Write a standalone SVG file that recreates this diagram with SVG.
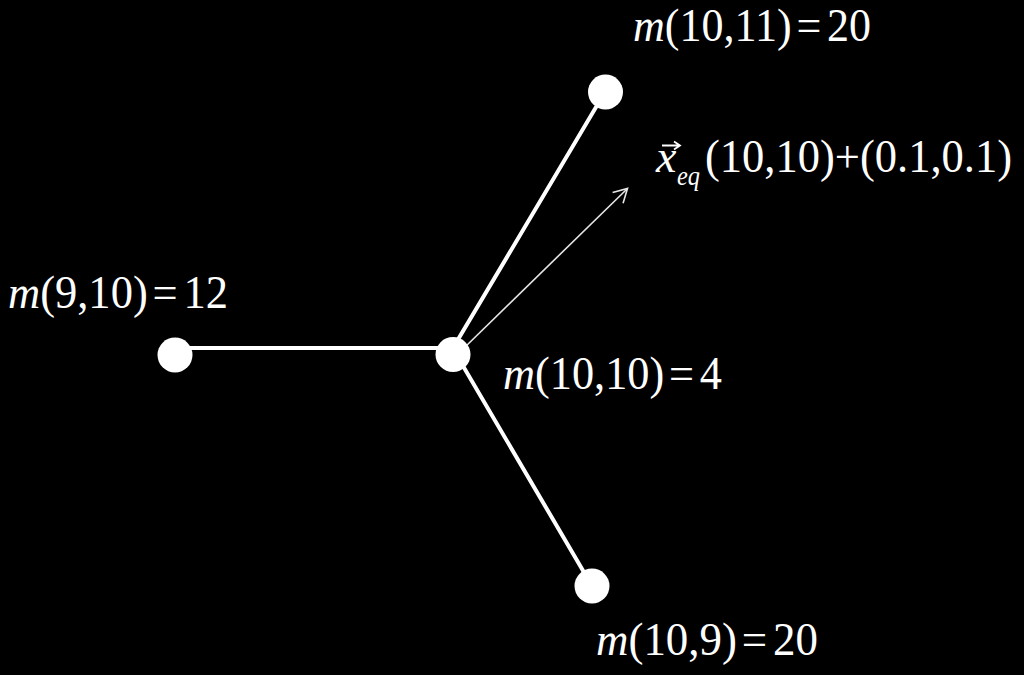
<svg xmlns="http://www.w3.org/2000/svg" width="1024" height="675" viewBox="0 0 1024 675">
<style>
.lbl{font-family:'Liberation Serif','Times New Roman',serif;font-size:46px;fill:#fff}
.it{font-style:italic}
.edge{stroke:#fff;stroke-width:4;stroke-linecap:round;fill:none}
.node{fill:#fff}
</style>
<defs>
<marker id="ah" markerUnits="userSpaceOnUse" orient="auto" overflow="visible" refX="0" refY="0" markerWidth="20" markerHeight="20">
<path d="M-13.5,-7.5 L0,0 L-13.5,7.5" fill="none" stroke="#e6e6e6" stroke-width="1.6" stroke-linejoin="miter"/>
</marker>
</defs>
<rect x="0" y="0" width="1024" height="675" fill="#000"/>
<g id="connectors">
<line class="edge" x1="175" y1="348" x2="453" y2="348"/>
<line class="edge" x1="450" y1="353" x2="605" y2="92"/>
<line class="edge" x1="456" y1="354" x2="592" y2="586"/>
<line x1="463" y1="349" x2="627.5" y2="188.5" stroke="#e6e6e6" stroke-width="1.6" marker-end="url(#ah)"/>
</g>
<g id="node-left">
<circle class="node" cx="175" cy="355" r="17.5"/>
<text class="lbl" x="8" y="308" textLength="220" lengthAdjust="spacingAndGlyphs"><tspan class="it">m</tspan>(9,10)<tspan dx="5">=</tspan><tspan dx="6">12</tspan></text>
</g>
<g id="node-center">
<circle class="node" cx="453" cy="354.5" r="17.5"/>
<text class="lbl" x="503" y="389" textLength="219" lengthAdjust="spacingAndGlyphs"><tspan class="it">m</tspan>(10,10)<tspan dx="5">=</tspan><tspan dx="6">4</tspan></text>
</g>
<g id="node-top">
<circle class="node" cx="605.5" cy="92" r="17.5"/>
<text class="lbl" x="633" y="41" textLength="238" lengthAdjust="spacingAndGlyphs"><tspan class="it">m</tspan>(10,11)<tspan dx="5">=</tspan><tspan dx="6">20</tspan></text>
</g>
<g id="node-bottom">
<circle class="node" cx="592" cy="586" r="17.5"/>
<text class="lbl" x="596" y="655" textLength="222" lengthAdjust="spacingAndGlyphs"><tspan class="it">m</tspan>(10,9)<tspan dx="5">=</tspan><tspan dx="6">20</tspan></text>
</g>
<g id="perturbation-label">
<text class="lbl it" x="656" y="172">x</text>
<path d="M662,145.5 L679,145.5 M674,141.5 L680,145.5 L674,149.5" stroke="#fff" stroke-width="1.8" fill="none"/>
<text class="lbl it" x="677" y="185" style="font-size:27px" textLength="23" lengthAdjust="spacingAndGlyphs">eq</text>
<text class="lbl" x="705" y="172" textLength="307" lengthAdjust="spacingAndGlyphs">(10,10)+(0.1,0.1)</text>
</g>
</svg>
